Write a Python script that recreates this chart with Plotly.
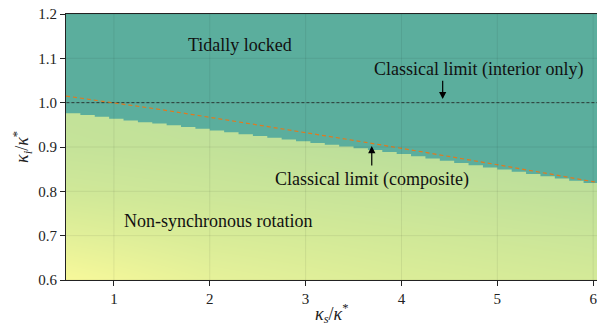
import plotly.graph_objects as go

# ---- data ----
# stepped tidal-locking boundary (kappa_i/kappa*) at step left edges (kappa_s/kappa*)
step_x = [0.45, 0.65, 0.8, 0.95, 1.1, 1.25, 1.4, 1.55, 1.7, 1.85, 2.0, 2.15, 2.3, 2.45,
          2.6, 2.75, 2.9, 3.05, 3.2, 3.35, 3.5, 3.65, 3.8, 3.95, 4.1, 4.25, 4.4, 4.55,
          4.7, 4.85, 5.0, 5.15, 5.3, 5.45, 5.6, 5.75, 5.9, 6.05]
step_y = [0.976, 0.972, 0.968, 0.964, 0.960, 0.956, 0.953, 0.949, 0.945, 0.941, 0.937,
          0.933, 0.929, 0.925, 0.921, 0.917, 0.913, 0.909, 0.905, 0.901, 0.897, 0.893,
          0.889, 0.884, 0.879, 0.874, 0.869, 0.864, 0.859, 0.854, 0.849, 0.844, 0.839,
          0.834, 0.829, 0.824, 0.819, 0.814]

# classical limit (composite)
comp_x = [0.5, 1.0, 1.5, 2.0, 2.5, 3.0, 3.5, 4.0, 4.5, 5.0, 5.5, 6.0, 6.1]
comp_y = [1.015, 1.000, 0.984, 0.967, 0.950, 0.933, 0.915, 0.897, 0.879, 0.860, 0.841, 0.822, 0.818]

# classical limit (interior only)
interior_y = 1.0

# colour intensity of the non-synchronous region (coarse grid)
grad_x = [0.45, 2.0, 4.0, 6.1]
grad_y = [0.6, 0.7, 0.8, 0.9, 1.0]
grad_z = [[0.00, 0.25, 0.40, 0.50],
          [0.30, 0.45, 0.55, 0.65],
          [0.55, 0.62, 0.70, 0.80],
          [0.70, 0.75, 0.85, 0.90],
          [0.75, 0.80, 0.90, 0.95]]

x_ticks = [1, 2, 3, 4, 5, 6]
y_ticks = [0.6, 0.7, 0.8, 0.9, 1.0, 1.1, 1.2]
x_range = [0.5, 6.04]
y_range = [0.6, 1.2]

TEAL = "#5bae9d"
font = "Liberation Serif"

fig = go.Figure()

fig.add_trace(go.Heatmap(
    x=grad_x, y=grad_y, z=grad_z, zsmooth="best", showscale=False,
    zmin=0, zmax=1,
    colorscale=[[0, "#f9f99a"], [0.5, "#d4ea98"], [1, "#b0d99b"]],
    hoverinfo="skip"))

fig.add_trace(go.Scatter(
    x=step_x + [6.3, 0.45], y=step_y + [1.25, 1.25],
    mode="lines", line=dict(shape="hv", width=0, color=TEAL),
    fill="toself", fillcolor=TEAL, hoverinfo="skip", showlegend=False))

fig.add_trace(go.Scatter(
    x=[0.4, 6.2], y=[interior_y, interior_y], mode="lines",
    line=dict(color="#222222", width=0.8, dash="3px,2px"), showlegend=False))

fig.add_trace(go.Scatter(
    x=comp_x, y=comp_y, mode="lines",
    line=dict(color="#e07a1f", width=1.2, dash="4px,3px"), showlegend=False))

shapes = []
for t in x_ticks:
    shapes.append(dict(type="line", xref="x", yref="paper", x0=t, x1=t, y0=0, y1=1,
                       line=dict(color="rgba(0,0,0,0.07)", width=1), layer="above"))
for t in y_ticks:
    shapes.append(dict(type="line", xref="paper", yref="y", x0=0, x1=1, y0=t, y1=t,
                       line=dict(color="rgba(0,0,0,0.07)", width=1), layer="above"))

afont = dict(family=font, size=18, color="#111111")
tfont = dict(family=font, size=18, color="#222222")
annotations = [
    dict(x=2.32, y=1.13, text="Tidally locked", showarrow=False, font=afont),
    dict(x=4.80, y=1.074, text="Classical limit (interior only)", showarrow=False, font=afont),
    dict(x=3.69, y=0.826, text="Classical limit (composite)", showarrow=False, font=afont),
    dict(x=2.09, y=0.733, text="Non-synchronous rotation", showarrow=False, font=afont),
    dict(x=4.43, y=1.008, ax=4.43, ay=1.053, xref="x", yref="y", axref="x", ayref="y",
         text="", showarrow=True, arrowhead=2, arrowsize=1.2, arrowwidth=1.2, arrowcolor="black"),
    dict(x=3.69, y=0.902, ax=3.69, ay=0.855, xref="x", yref="y", axref="x", ayref="y",
         text="", showarrow=True, arrowhead=2, arrowsize=1.2, arrowwidth=1.2, arrowcolor="black"),
    dict(x=0.5, y=-0.125, xref="paper", yref="paper", yanchor="middle",
         text="<i>κ</i><sub><i>s</i></sub>/<i>κ</i><sup>*</sup>", showarrow=False, font=tfont),
    dict(x=-0.083, y=0.5, xref="paper", yref="paper", xanchor="center", textangle=-90,
         text="<i>κ</i><sub><i>i</i></sub>/<i>κ</i><sup>*</sup>", showarrow=False, font=tfont),
]

fig.update_layout(
    width=597, height=326,
    margin=dict(l=66, r=0, t=14, b=46, autoexpand=False),
    plot_bgcolor="white", paper_bgcolor="white",
    font=dict(family=font, size=15, color="#222222"),
    shapes=shapes, annotations=annotations, showlegend=False,
    xaxis=dict(range=x_range, tickvals=x_ticks, ticks="outside", ticklen=5, tickwidth=1.2,
               tickcolor="#222", showgrid=False, zeroline=False, showline=True,
               linecolor="#222", linewidth=1.2, mirror=True, automargin=False,
               ticklabeloverflow="allow"),
    yaxis=dict(range=y_range, tickvals=y_ticks, tickformat=".1f", ticks="outside",
               ticklen=5, tickwidth=1.2, tickcolor="#222", showgrid=False, zeroline=False,
               showline=True, linecolor="#222", linewidth=1.2, mirror=True, automargin=False),
)

fig.write_html("out.html", config={"displayModeBar": False},
               post_script="document.body.style.margin='0';document.body.style.overflow='hidden';")
